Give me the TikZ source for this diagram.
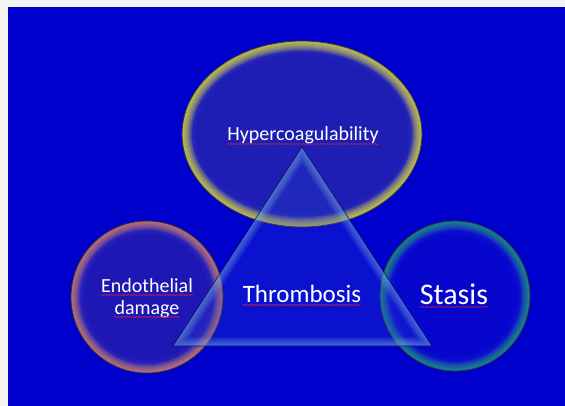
\documentclass[tikz,border=0pt]{standalone}
\usepackage{fontspec}
\setmainfont{Carlito}
\usetikzlibrary{decorations.pathmorphing}
\definecolor{bg}{RGB}{0,0,205}
\definecolor{marg}{RGB}{244,244,240}
\definecolor{ellfill}{RGB}{30,30,180}
\definecolor{lcfill}{RGB}{36,28,176}
\definecolor{rcfill}{RGB}{8,8,204}
\definecolor{yrim}{RGB}{230,230,50}
\definecolor{orim}{RGB}{240,140,90}
\definecolor{grim}{RGB}{20,175,115}
\definecolor{trifill}{RGB}{40,70,215}
\definecolor{tririm}{RGB}{130,190,235}
\definecolor{lav}{RGB}{150,150,255}
\definecolor{squig}{RGB}{210,30,70}
\tikzset{
  label/.style={text=white, inner sep=0pt, anchor=base},
  squigline/.style={draw=squig, line width=0.5pt, decorate,
    decoration={snake, segment length=3pt, amplitude=0.7pt}},
  outline/.style={draw=black!80, line width=0.8pt}
}
\begin{document}
\begin{tikzpicture}[x=1pt,y=-1pt]
\useasboundingbox (0,0) rectangle (565,406);
\fill[marg] (0,0) rectangle (565,406);
\fill[bg] (8,7) rectangle (565,406);
% ---- ellipse: Hypercoagulability
\begin{scope}
  \clip (302,134) ellipse [x radius=120, y radius=93];
  \fill[ellfill] (302,134) ellipse [x radius=120, y radius=93];
  \foreach \i in {1,...,14}
    \draw[lav, line width=2*\i pt, opacity=0.02] (302,134) ellipse [x radius=120, y radius=93];
  \foreach \i in {1,...,10}
    \draw[yrim, line width=2*\i pt, opacity=0.13] (302,134) ellipse [x radius=120, y radius=93];
\end{scope}
\draw[outline] (302,134) ellipse [x radius=120, y radius=93];
% ---- left circle
\begin{scope}
  \clip (147,297) circle [radius=76];
  \fill[lcfill, opacity=0.85] (147,297) circle [radius=76];
  \foreach \i in {1,...,14}
    \draw[lav, line width=2*\i pt, opacity=0.02] (147,297) circle [radius=76];
  \foreach \i in {1,...,9}
    \draw[orim, line width=2*\i pt, opacity=0.12] (147,297) circle [radius=76];
\end{scope}
\draw[outline] (147,297) circle [radius=76];
% ---- right circle
\begin{scope}
  \clip (455,296) circle [radius=75];
  \fill[rcfill, opacity=0.85] (455,296) circle [radius=75];
  \foreach \i in {1,...,14}
    \draw[lav, line width=2*\i pt, opacity=0.02] (455,296) circle [radius=75];
  \foreach \i in {1,...,9}
    \draw[grim, line width=2*\i pt, opacity=0.12] (455,296) circle [radius=75];
\end{scope}
\draw[outline] (455,296) circle [radius=75];
% ---- triangle (translucent, on top)
\begin{scope}
  \clip (302,147) -- (432,346) -- (173,346) -- cycle;
  \fill[trifill, opacity=0.25] (302,147) -- (432,346) -- (173,346) -- cycle;
  \foreach \i in {1,...,9}
    \draw[tririm, line width=2*\i pt, opacity=0.07] (302,147) -- (432,346) -- (173,346) -- cycle;
\end{scope}
\draw[black!70!blue, line width=0.6pt, opacity=0.8] (302,147) -- (432,346) -- (173,346) -- cycle;
% ---- texts
\node[label, font=\fontsize{20}{24}\selectfont] (hyp) at (303,141) {Hypercoagulability};
\node[label, font=\fontsize{25}{30}\selectfont] (thr) at (302,302) {Thrombosis};
\node[label, font=\fontsize{30}{36}\selectfont] (sta) at (454,304) {Stasis};
\node[label, font=\fontsize{20}{24}\selectfont] (endo) at (147,292) {Endothelial};
\node[label, font=\fontsize{20}{24}\selectfont] (dam) at (147,314) {damage};
\foreach \n in {hyp,thr,sta,endo,dam}
  \draw[squigline] ([yshift=-3pt]\n.base west) -- ([yshift=-3pt]\n.base east);
\end{tikzpicture}
\end{document}
